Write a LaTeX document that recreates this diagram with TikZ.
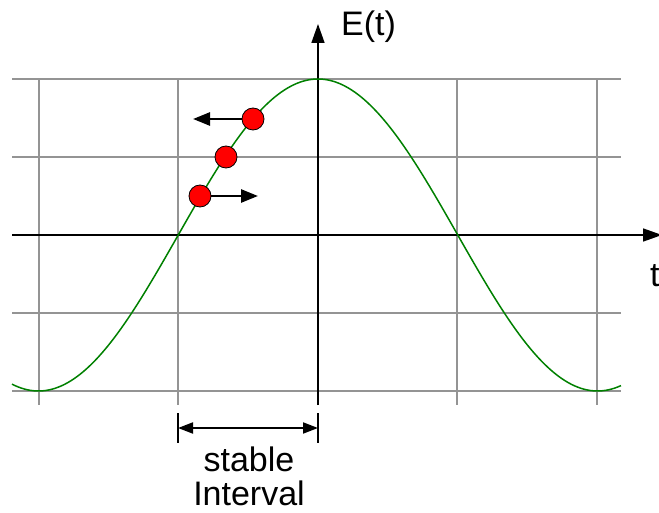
\documentclass[tikz,border=0pt]{standalone}
\usepackage{fontspec}
\setmainfont{Liberation Sans}
\usetikzlibrary{arrows.meta, positioning}

\tikzset{
  gridline/.style={draw=black!42, line width=1.8pt},
  axisline/.style={draw=black, line width=1.6pt},
  wave/.style={draw=green!50!black, line width=1.5pt},
  dot/.style={circle, draw=black, line width=0.8pt, fill=red, minimum size=22pt, inner sep=0pt},
  vec/.style={line width=2.6pt, -{Triangle[length=17pt, width=13pt]}},
  lbl/.style={inner sep=0pt, font=\fontsize{34}{34}\selectfont}
}

\begin{document}
\begin{tikzpicture}[x=1pt, y=-1pt]
  \useasboundingbox (0,0) rectangle (659,513);
  % Raster
  \foreach \gx in {39,178,457,597}
    \draw[gridline] (\gx,79) -- (\gx,405);
  \foreach \gy in {79,157,313,391}
    \draw[gridline] (12,\gy) -- (621,\gy);
  % Achsen
  \coordinate (t0) at (12,235);
  \coordinate (t1) at (662,235);
  \coordinate (e0) at (318,405);
  \coordinate (e1) at (318,24);
  \draw[axisline, -{Triangle[length=19pt, width=13pt]}] (t0) -- (t1);
  \draw[axisline, -{Triangle[length=19pt, width=13pt]}] (e0) -- (e1);
  \node[lbl, anchor=base west] (elbl) at (341,36) {E(t)};
  \node[lbl, anchor=base west] (tlbl) at (650,287) {t};
  % Kurve
  \draw[wave] plot[domain=12:621, samples=200, smooth]
    ({\x},{235-156*cos((\x-318)/279.5*180)});
  % Punkte
  \node[dot] (p1) at (253,119) {};
  \node[dot] (p2) at (226,157) {};
  \node[dot] (p3) at (200,196) {};
  \coordinate (v1) at (193,119);
  \coordinate (v3) at (258,196);
  \draw[vec] (p1.west) -- (v1);
  \draw[vec] (p3.east) -- (v3);
  % Intervall
  \coordinate (ia) at (178,428);
  \coordinate (ib) at (318,428);
  \draw[line width=1.4pt] (178,413) -- (178,443);
  \draw[line width=1.4pt] (318,413) -- (318,443);
  \draw[line width=2pt, {Triangle[length=15pt, width=11pt]}-{Triangle[length=15pt, width=11pt]}] (ia) -- (ib);
  \node[lbl, align=center, anchor=north] (ilbl) at (249,447) {stable\\Interval};
\end{tikzpicture}
\end{document}
